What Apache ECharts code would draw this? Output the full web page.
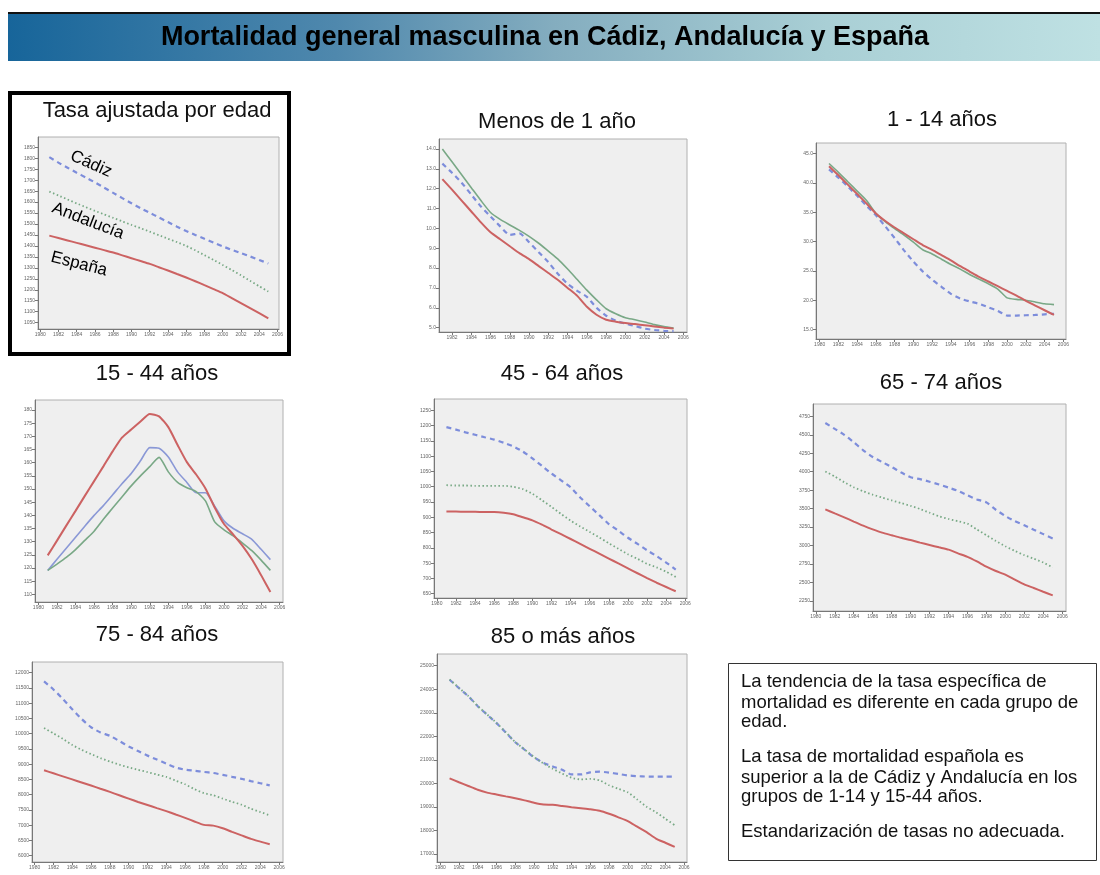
<!DOCTYPE html>
<html>
<head>
<meta charset="utf-8">
<title>Mortalidad general masculina en Cádiz, Andalucía y España</title>
<script src="https://cdn.jsdelivr.net/npm/echarts@6/dist/echarts.min.js"></script>
<style>
html, body { margin: 0; padding: 0; background: #fff; }
#chart { width: 1100px; height: 875px; }
</style>
</head>
<body>
<div id="chart"></div>
<script>
// years of data and x tick labels
const years = [1981, 1982, 1983, 1984, 1985, 1986, 1987, 1988, 1989, 1990, 1991, 1992, 1993,
  1994, 1995, 1996, 1997, 1998, 1999, 2000, 2001, 2002, 2003, 2004, 2005]
const xTicks = [1980, 1982, 1984, 1986, 1988, 1990, 1992, 1994, 1996, 1998, 2000, 2002, 2004, 2006]

// Tasa ajustada por edad
const ajustadaTicks = [1050, 1100, 1150, 1200, 1250, 1300, 1350, 1400, 1450, 1500, 1550, 1600, 1650, 1700, 1750, 1800, 1850]
const ajustadaCadiz = [1805, 1780, 1757, 1734, 1712, 1690, 1666, 1642, 1618, 1595, 1572, 1551, 1530, 1509, 1488, 1468, 1450, 1433, 1415, 1398, 1382, 1367, 1352, 1336, 1320]
const ajustadaAndalucia = [1648, 1630, 1612, 1594, 1577, 1560, 1544, 1528, 1512, 1496, 1481, 1465, 1449, 1433, 1417, 1400, 1380, 1358, 1336, 1313, 1290, 1266, 1241, 1216, 1192]
const ajustadaEspana = [1447, 1436, 1425, 1414, 1403, 1392, 1381, 1370, 1357, 1344, 1331, 1318, 1303, 1288, 1272, 1256, 1239, 1221, 1203, 1185, 1162, 1139, 1116, 1093, 1070]

// Menos de 1 año
const menos1Ticks = [5, 6, 7, 8, 9, 10, 11, 12, 13, 14]
const menos1Cadiz = [13.26, 12.8, 12.3, 11.7, 11.1, 10.6, 10.1, 9.67, 9.75, 9.3, 8.8, 8.3, 7.7, 7.2, 6.85, 6.55, 6.0, 5.6, 5.35, 5.2, 5.08, 4.95, 4.88, 4.84, 4.82]
const menos1Andalucia = [14.0, 13.35, 12.7, 12.05, 11.4, 10.8, 10.45, 10.17, 9.9, 9.6, 9.25, 8.85, 8.45, 7.95, 7.42, 6.89, 6.4, 5.95, 5.7, 5.5, 5.4, 5.28, 5.15, 5.05, 4.98]
const menos1Espana = [12.48, 11.95, 11.4, 10.85, 10.3, 9.8, 9.45, 9.1, 8.75, 8.45, 8.1, 7.75, 7.4, 7.0, 6.6, 6.05, 5.65, 5.4, 5.3, 5.23, 5.18, 5.12, 5.06, 5.0, 4.95]

// 1 - 14 años
const g1_14Ticks = [15, 20, 25, 30, 35, 40, 45]
const g1_14Cadiz = [42.3, 40.9, 39.4, 37.8, 36.1, 34.5, 32.6, 30.6, 28.5, 26.6, 24.9, 23.5, 22.3, 21.1, 20.3, 19.8, 19.4, 18.8, 18.2, 17.4, 17.4, 17.45, 17.5, 17.6, 17.7]
const g1_14Andalucia = [43.3, 41.8, 40.2, 38.6, 37.0, 34.8, 33.4, 32.2, 31.1, 29.9, 28.6, 27.9, 27.0, 26.1, 25.3, 24.4, 23.6, 22.8, 21.9, 20.4, 20.15, 20.0, 19.7, 19.4, 19.25]
const g1_14Espana = [42.85, 41.3, 39.7, 38.1, 36.5, 34.8, 33.5, 32.4, 31.4, 30.4, 29.4, 28.6, 27.7, 26.8, 25.8, 24.9, 24.0, 23.2, 22.4, 21.6, 20.8, 19.9, 19.1, 18.3, 17.5]

// 15 - 44 años
const g15_44Ticks = [110, 115, 120, 125, 130, 135, 140, 145, 150, 155, 160, 165, 170, 175, 180]
const g15_44Cadiz = [119.1, 123.3, 127.5, 131.7, 135.9, 140.0, 143.7, 147.8, 152.0, 155.9, 160.7, 165.7, 165.5, 162.2, 156.5, 152.5, 148.6, 148.6, 143.5, 137.9, 135.0, 133.0, 130.9, 127.1, 123.2]
const g15_44Andalucia = [119.1, 121.5, 124.0, 127.0, 130.5, 134.0, 138.5, 142.8, 147.0, 151.2, 155.0, 158.5, 162.0, 156.5, 152.5, 150.5, 149.0, 145.5, 137.5, 134.5, 132.2, 129.5, 126.6, 123.0, 119.1]
const g15_44Espana = [124.8, 130.4, 136.1, 141.7, 147.4, 153.0, 158.6, 164.3, 169.5, 172.6, 175.6, 178.5, 177.6, 173.5, 166.7, 160.2, 155.5, 150.2, 143.0, 136.7, 132.7, 128.4, 123.3, 117.3, 110.9]

// 45 - 64 años
const g45_64Ticks = [650, 700, 750, 800, 850, 900, 950, 1000, 1050, 1100, 1150, 1200, 1250]
const g45_64Cadiz = [1195, 1187, 1178, 1170, 1162, 1154, 1144, 1132, 1115, 1093, 1068, 1043, 1021, 998, 965, 936, 907, 878, 856, 833, 813, 792, 773, 752, 729]
const g45_64Andalucia = [1005, 1004, 1004, 1003, 1003, 1003, 1003, 1000, 992, 977, 956, 934, 911, 889, 870, 852, 834, 815, 797, 779, 764, 748, 736, 722, 705]
const g45_64Espana = [919, 919, 918, 918, 917, 917, 915, 910, 900, 890, 876, 860, 845, 829, 813, 797, 781, 765, 749, 733, 717, 701, 686, 672, 658]

// 65 - 74 años
const g65_74Ticks = [2250, 2500, 2750, 3000, 3250, 3500, 3750, 4000, 4250, 4500, 4750]
const g65_74Cadiz = [4659, 4580, 4500, 4400, 4290, 4200, 4130, 4065, 3990, 3925, 3900, 3865, 3827, 3785, 3740, 3680, 3625, 3585, 3485, 3400, 3330, 3275, 3215, 3155, 3097]
const g65_74Andalucia = [4003, 3935, 3858, 3790, 3735, 3690, 3650, 3612, 3575, 3538, 3495, 3445, 3396, 3360, 3330, 3297, 3218, 3140, 3062, 2990, 2928, 2870, 2823, 2770, 2703]
const g65_74Espana = [3491, 3435, 3382, 3325, 3270, 3220, 3175, 3140, 3105, 3075, 3040, 3008, 2976, 2945, 2895, 2848, 2785, 2714, 2655, 2607, 2540, 2475, 2425, 2375, 2326]

// 75 - 84 años
const g75_84Ticks = [6000, 6500, 7000, 7500, 8000, 8500, 9000, 9500, 10000, 10500, 11000, 11500, 12000]
const g75_84Cadiz = [11716, 11450, 11140, 10800, 10480, 10210, 10040, 9930, 9760, 9580, 9430, 9280, 9150, 9020, 8890, 8820, 8785, 8745, 8710, 8650, 8585, 8520, 8445, 8375, 8306]
const g75_84Andalucia = [10186, 10010, 9830, 9630, 9470, 9330, 9200, 9085, 8985, 8895, 8815, 8740, 8660, 8580, 8460, 8340, 8180, 8050, 7980, 7870, 7765, 7670, 7540, 7430, 7322]
const g75_84Espana = [8798, 8700, 8600, 8500, 8400, 8300, 8195, 8090, 7980, 7870, 7760, 7660, 7560, 7460, 7350, 7240, 7120, 7010, 6985, 6900, 6780, 6665, 6550, 6460, 6372]

// 85 o más años
const g85Ticks = [17000, 18000, 19000, 20000, 21000, 22000, 23000, 24000, 25000]
const g85Cadiz = [24403, 24050, 23700, 23280, 22920, 22560, 22160, 21750, 21430, 21110, 20870, 20720, 20580, 20380, 20380, 20470, 20500, 20460, 20400, 20340, 20310, 20290, 20285, 20285, 20284]
const g85Andalucia = [24420, 24060, 23710, 23290, 22930, 22570, 22170, 21760, 21440, 21120, 20850, 20620, 20420, 20240, 20170, 20190, 20130, 19920, 19770, 19620, 19320, 19010, 18780, 18500, 18225]
const g85Espana = [20213, 20050, 19890, 19730, 19610, 19530, 19450, 19370, 19280, 19180, 19105, 19090, 19040, 18990, 18945, 18900, 18835, 18710, 18560, 18400, 18160, 17930, 17660, 17480, 17301]

const FONT = '"Liberation Sans", Arial, sans-serif'

const lineStyles = {
	cadizDash: { color: '#7d8ddb', width: 2.2, type: [5, 4] },
	cadizSolid: { color: '#8a98d6', width: 1.6, type: 'solid' },
	andDot: { color: '#78a985', width: 1.8, type: [1.5, 2.5] },
	andSolid: { color: '#79a886', width: 1.6, type: 'solid' },
	espSolid: { color: '#cc6262', width: 2, type: 'solid' }
}

// one entry per small chart: box = [left, top, right, bottom]
const panels = [
	{ title: 'Tasa ajustada por edad', tx: 157, ty: 111, box: [38, 137, 279, 329], xr: [1979.76, 2006.17], yr: [1021, 1897], ticks: ajustadaTicks, dec: 0,
		data: [ajustadaCadiz, ajustadaAndalucia, ajustadaEspana], styles: ['cadizDash', 'andDot', 'espSolid'] },
	{ title: 'Menos de 1 año', tx: 557, ty: 122, box: [439, 139, 687, 332], xr: [1980.65, 2006.39], yr: [4.78, 14.5], ticks: menos1Ticks, dec: 1,
		data: [menos1Cadiz, menos1Andalucia, menos1Espana], styles: ['cadizDash', 'andSolid', 'espSolid'] },
	{ title: '1 - 14 años', tx: 942, ty: 120, box: [816, 143, 1066, 339], xr: [1979.61, 2006.28], yr: [13.4, 46.8], ticks: g1_14Ticks, dec: 1,
		data: [g1_14Cadiz, g1_14Andalucia, g1_14Espana], styles: ['cadizDash', 'andSolid', 'espSolid'] },
	{ title: '15 - 44 años', tx: 157, ty: 374, box: [35, 400, 283, 602], xr: [1979.63, 2006.36], yr: [107.1, 183.8], ticks: g15_44Ticks, dec: 0,
		data: [g15_44Cadiz, g15_44Andalucia, g15_44Espana], styles: ['cadizSolid', 'andSolid', 'espSolid'] },
	{ title: '45 - 64 años', tx: 562, ty: 374, box: [434, 399, 687, 598], xr: [1979.70, 2006.18], yr: [636, 1287], ticks: g45_64Ticks, dec: 0,
		data: [g45_64Cadiz, g45_64Andalucia, g45_64Espana], styles: ['cadizDash', 'andDot', 'espSolid'] },
	{ title: '65 - 74 años', tx: 941, ty: 383, box: [813, 404, 1066, 611], xr: [1979.70, 2006.40], yr: [2114, 4917], ticks: g65_74Ticks, dec: 0,
		data: [g65_74Cadiz, g65_74Andalucia, g65_74Espana], styles: ['cadizDash', 'andDot', 'espSolid'] },
	{ title: '75 - 84 años', tx: 157, ty: 635, box: [32, 662, 283, 862], xr: [1979.72, 2006.41], yr: [5792, 12350], ticks: g75_84Ticks, dec: 0,
		data: [g75_84Cadiz, g75_84Andalucia, g75_84Espana], styles: ['cadizDash', 'andDot', 'espSolid'] },
	{ title: '85 o más años', tx: 563, ty: 637, box: [437, 654, 687, 862], xr: [1979.66, 2006.31], yr: [16662, 25497], ticks: g85Ticks, dec: 0,
		data: [g85Cadiz, g85Andalucia, g85Espana], styles: ['cadizDash', 'andDot', 'espSolid'] }
]

const seriesNames = ['Cádiz', 'Andalucía', 'España']
const notes = [
	'La tendencia de la tasa específica de',
	'mortalidad es diferente en cada grupo de',
	'edad.',
	'La tasa de mortalidad española es',
	'superior a la de Cádiz y Andalucía en los',
	'grupos de 1-14 y 15-44 años.',
	'Estandarización de tasas no adecuada.'
]
const noteY = [682, 703, 722, 757, 778, 797, 832]

const chart = echarts.init(document.getElementById('chart'))

const grids = [], xAxes = [], yAxes = [], series = []
const elements = []

// header bar
elements.push({
	type: 'rect', shape: { x: 8, y: 13, width: 1092, height: 48 },
	style: { fill: new echarts.graphic.LinearGradient(0, 0, 1, 0, [
		{ offset: 0, color: '#17659a' },
		{ offset: 0.3, color: '#4f88ad' },
		{ offset: 0.5, color: '#84adbf' },
		{ offset: 0.75, color: '#a9cfd5' },
		{ offset: 1, color: '#bfe1e3' }
	]) }
})
elements.push({ type: 'rect', shape: { x: 8, y: 12, width: 1092, height: 2 }, style: { fill: '#111' } })
elements.push({
	type: 'text', x: 545, y: 38,
	style: { text: 'Mortalidad general masculina en Cádiz, Andalucía y España', font: 'bold 27px ' + FONT, fill: '#000', align: 'center', verticalAlign: 'middle' }
})

// thick frame round the first chart
elements.push({ type: 'rect', shape: { x: 10, y: 93, width: 279, height: 261 }, style: { fill: null, stroke: '#000', lineWidth: 4 } })

// labels on the first chart
elements.push({ type: 'text', x: 91, y: 164, rotation: -0.42, style: { text: 'Cádiz', font: '17px ' + FONT, fill: '#000', align: 'center', verticalAlign: 'middle' } })
elements.push({ type: 'text', x: 88, y: 221, rotation: -0.37, style: { text: 'Andalucía', font: '17px ' + FONT, fill: '#000', align: 'center', verticalAlign: 'middle' } })
elements.push({ type: 'text', x: 79, y: 264, rotation: -0.25, style: { text: 'España', font: '17px ' + FONT, fill: '#000', align: 'center', verticalAlign: 'middle' } })

// notes box
elements.push({ type: 'rect', shape: { x: 728.5, y: 663.5, width: 368, height: 197 }, style: { fill: '#fff', stroke: '#333', lineWidth: 1 } })
notes.forEach((t, i) => {
	elements.push({ type: 'text', x: 741, y: noteY[i], style: { text: t, font: '18.5px ' + FONT, fill: '#111', align: 'left', verticalAlign: 'middle' } })
})

panels.forEach((p, i) => {
	const [l, t, r, b] = p.box
	grids.push({
		left: l, top: t, width: r - l, height: b - t,
		show: true, backgroundColor: '#efefef', borderColor: '#b0b0b0', borderWidth: 1,
		containLabel: false, outerBoundsMode: 'none'
	})
	xAxes.push({
		gridIndex: i, type: 'value', min: p.xr[0], max: p.xr[1],
		axisLine: { show: true, onZero: false, lineStyle: { color: '#777', width: 1 } },
		axisTick: { show: true, length: 3, customValues: xTicks, lineStyle: { color: '#777' } },
		axisLabel: { customValues: xTicks, fontSize: 5, color: '#666', margin: 3, fontFamily: FONT,
			formatter: v => String(v) },
		splitLine: { show: false }
	})
	yAxes.push({
		gridIndex: i, type: 'value', min: p.yr[0], max: p.yr[1],
		axisLine: { show: true, onZero: false, lineStyle: { color: '#777', width: 1 } },
		axisTick: { show: true, length: 3, customValues: p.ticks, lineStyle: { color: '#777' } },
		axisLabel: { customValues: p.ticks, fontSize: 5, color: '#666', margin: 3, fontFamily: FONT,
			formatter: v => v.toFixed(p.dec) },
		splitLine: { show: false }
	})
	p.data.forEach((arr, k) => {
		series.push({
			name: seriesNames[k],
			type: 'line',
			xAxisIndex: i, yAxisIndex: i,
			data: years.map((y, j) => [y, arr[j]]),
			symbol: 'none',
			smooth: 0.2,
			silent: true,
			lineStyle: lineStyles[p.styles[k]]
		})
	})
	elements.push({
		type: 'text', x: p.tx, y: p.ty,
		style: { text: p.title, font: '22px ' + FONT, fill: '#111', align: 'center', verticalAlign: 'middle' }
	})
})

chart.setOption({
	animation: false,
	backgroundColor: '#fff',
	grid: grids,
	xAxis: xAxes,
	yAxis: yAxes,
	series: series,
	graphic: { elements: elements }
})
</script>
</body>
</html>
